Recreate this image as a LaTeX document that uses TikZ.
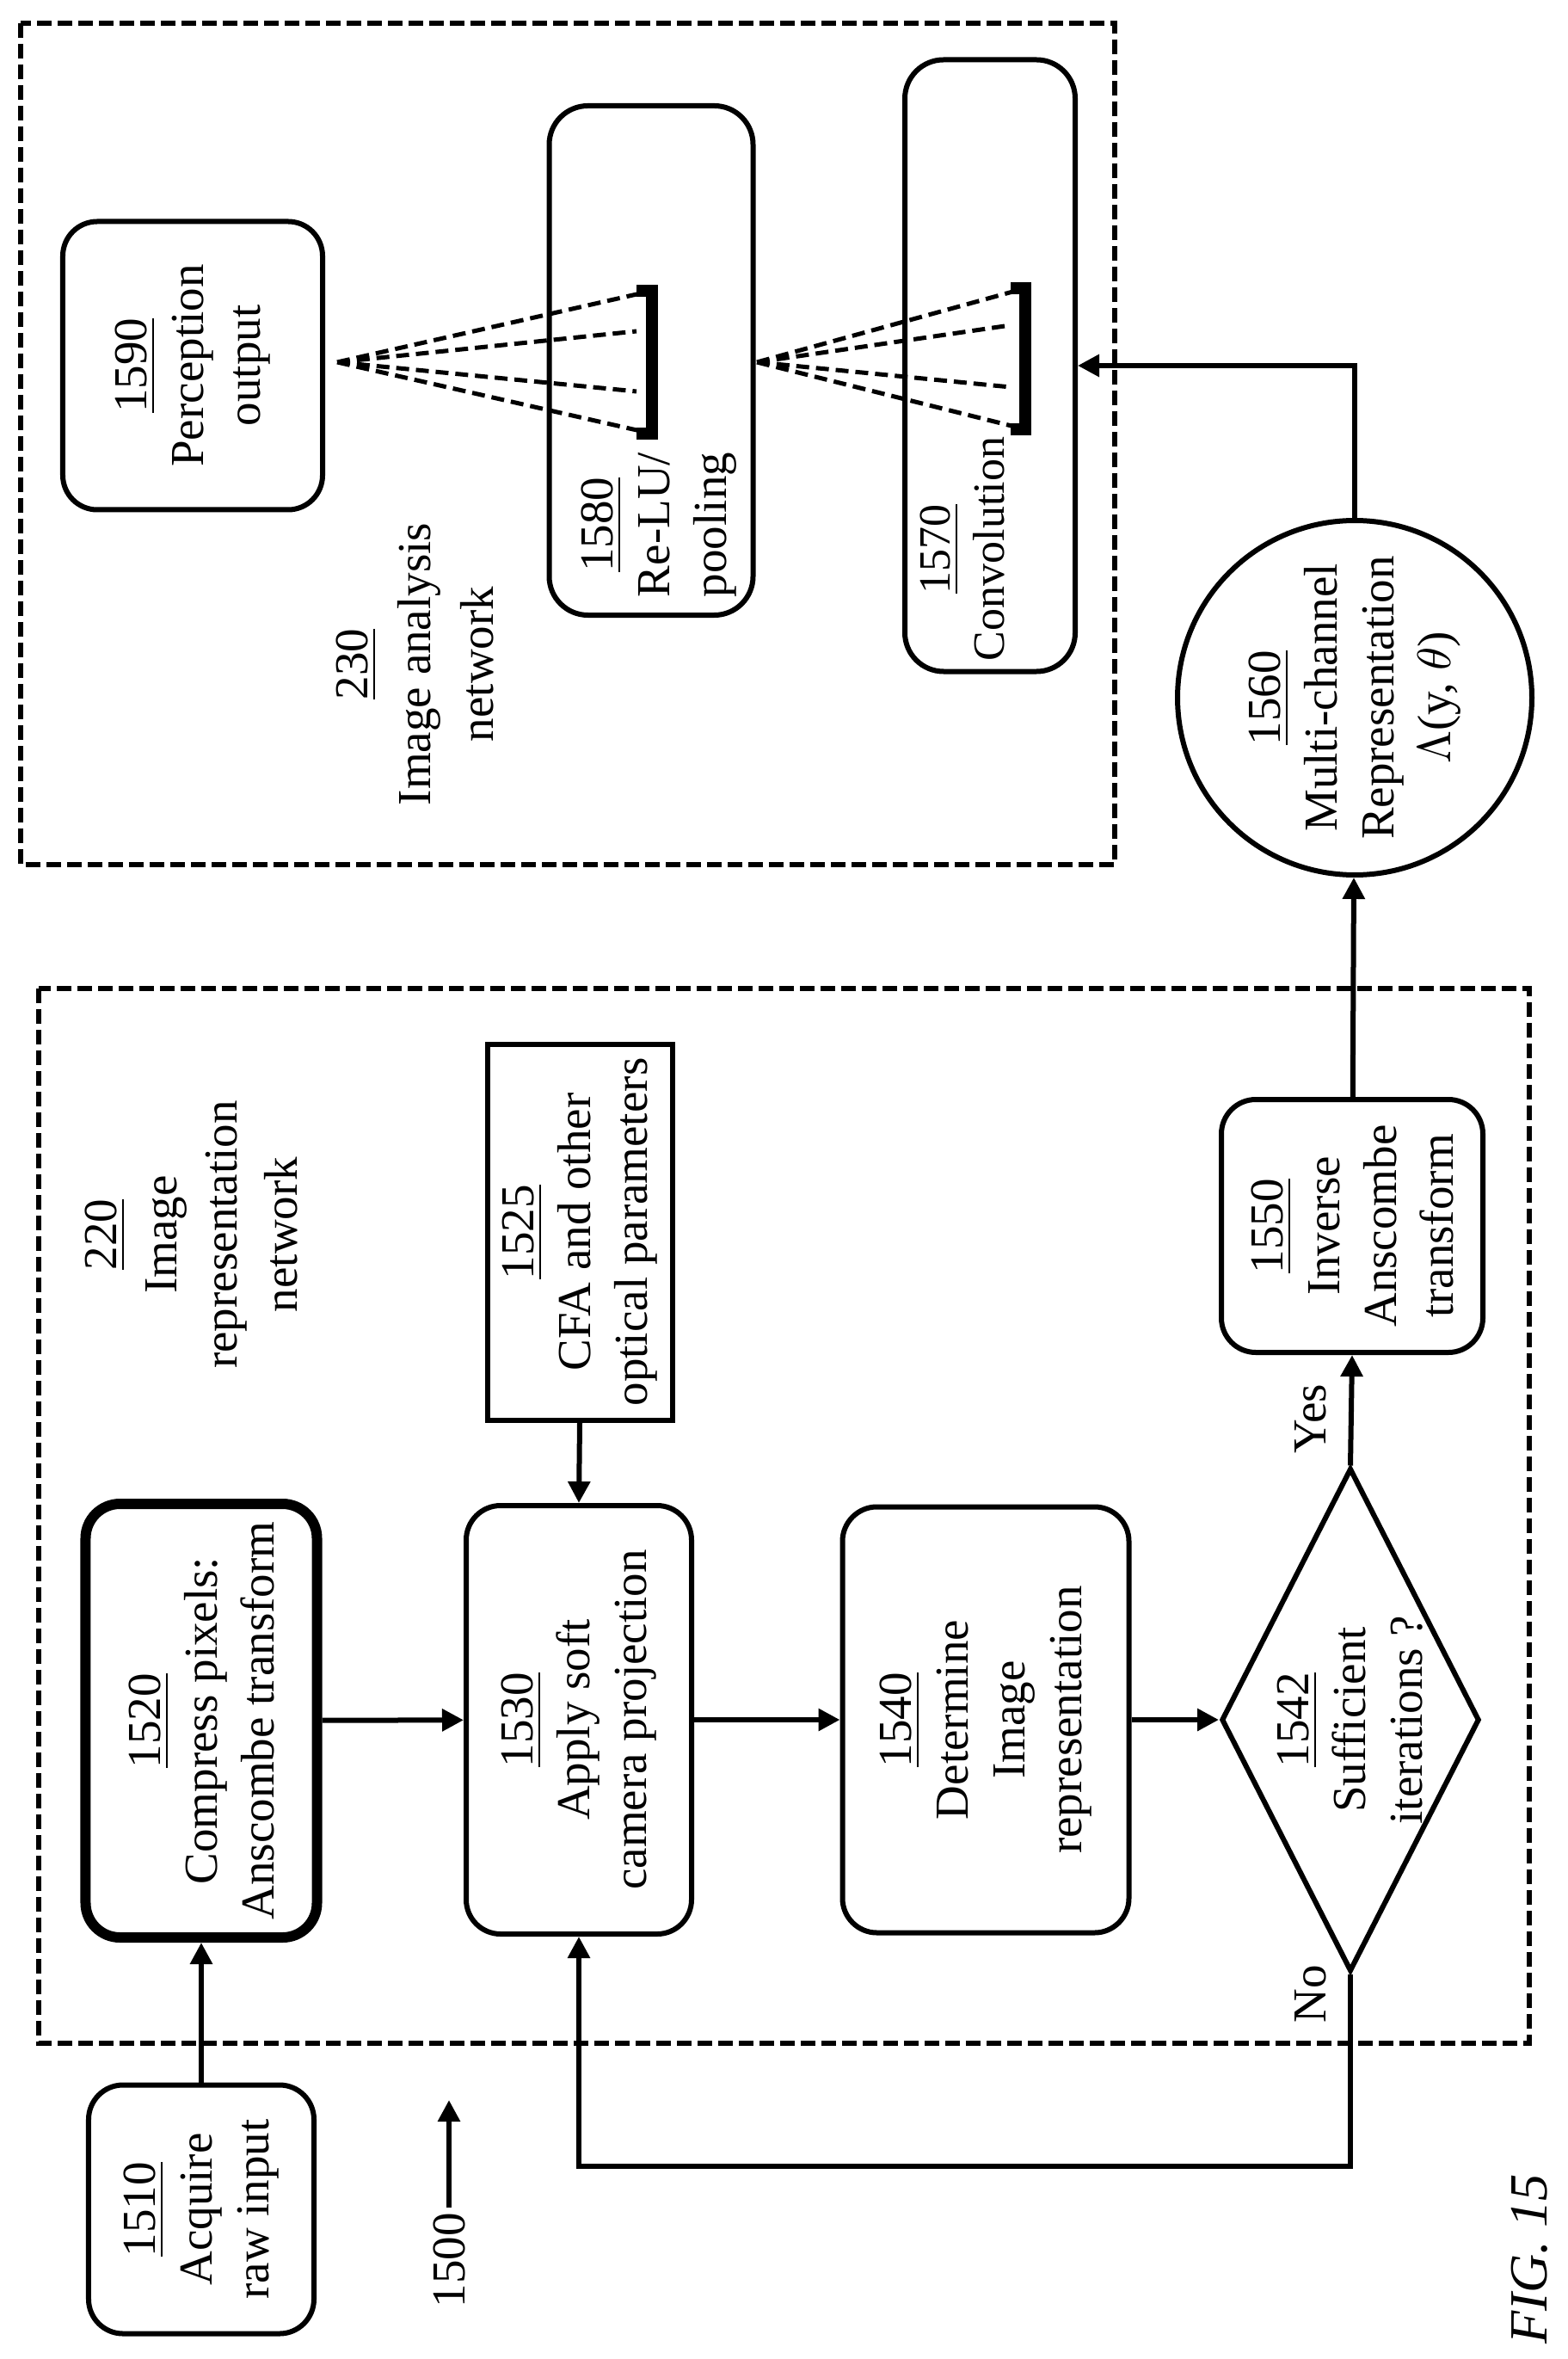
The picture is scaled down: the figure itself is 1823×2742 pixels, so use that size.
\documentclass[tikz,border=0pt]{standalone}
\usepackage{fontspec}
\setmainfont{Liberation Serif}
\usepackage{tikz}
\usetikzlibrary{arrows.meta,shapes.geometric,positioning,calc}

\begin{document}
\begin{tikzpicture}[x=0.2pt, y=-0.2pt,
    txt/.style = {align=center, inner sep=1pt, rotate=90, font=\fontsize{11}{13.2}\selectfont},
    stage/.style = {txt, draw=black, line width=1.2pt, rounded corners=8pt},
    stagethick/.style = {stage, line width=2.4pt},
    param/.style = {txt, draw=black, line width=1.2pt},
    decision/.style = {txt, diamond, draw=black, line width=1.2pt, inner sep=0pt},
    rep/.style = {txt, circle, draw=black, line width=1.2pt, inner sep=0pt},
    frame/.style = {line width=1.2pt, dash pattern=on 3.4pt off 1.4pt},
    cone/.style = {line width=1pt, dash pattern=on 3pt off 1.6pt},
    flow/.style = {line width=1.2pt, -{Triangle[length=5pt,width=5pt]}}]
  \useasboundingbox (0,0) rectangle (1823,2742);

  % frames
  \draw[frame] (24,27) rectangle (1296,1005);
  \draw[frame] (45,1149) rectangle (1778,2375);
  \node[txt, font=\fontsize{11}{14.6}\selectfont] (net230) at (482,772) {\underline{230}\\Image analysis\\network};
  \node[txt, font=\fontsize{11}{14}\selectfont] (net220) at (222,1435) {\underline{220}\\Image\\representation\\network};

  % image analysis network
  \node[stage, minimum width=67pt, minimum height=60.4pt] (n1590) at (224,425) {\underline{1590}\\Perception\\output};
  \node[stage, rounded corners=9pt, minimum width=118.4pt, minimum height=47.4pt] (n1580) at (757,419) {};
  \node[txt] (t1580) at (766,610) {\underline{1580}\\Re-LU/\\pooling};
  \node[stage, rounded corners=9pt, minimum width=142.2pt, minimum height=39.6pt] (n1570) at (1151,425) {};
  \node[txt, font=\fontsize{10.4}{12.6}\selectfont] (t1570) at (1119,638) {\underline{1570}\\Convolution};

  \coordinate (apexa) at (392,421);
  \coordinate (apexb) at (880,421);
  \draw[cone] (apexa) -- (758,338) (apexa) -- (740,385) (apexa) -- (740,455) (apexa) -- (758,504);
  \draw[cone] (apexb) -- (1192,335) (apexb) -- (1175,378) (apexb) -- (1175,450) (apexb) -- (1192,499);
  \draw[line width=2.8pt] (740,338) -- (758,338) -- (758,504) -- (740,504);
  \draw[line width=2.8pt] (1175,335) -- (1192,335) -- (1192,499) -- (1175,499);

  % image representation network
  \node[stage, minimum width=57.8pt, minimum height=52.4pt] (n1510) at (234,2568) {\underline{1510}\\Acquire\\raw input};
  \node[stagethick, minimum width=100.8pt, minimum height=53.8pt] (n1520) at (234,2000) {\underline{1520}\\Compress pixels:\\Anscombe transform};
  \node[param, minimum width=87.4pt, minimum height=43pt] (n1525) at (674,1432) {\underline{1525}\\CFA and other\\optical parameters};
  \node[stage, minimum width=99.6pt, minimum height=52.4pt] (n1530) at (673,1999) {\underline{1530}\\Apply soft\\camera projection};
  \node[stage, minimum width=99pt, minimum height=66.6pt] (n1540) at (1146,1999) {\underline{1540}\\Determine\\Image\\representation};
  \node[decision, minimum width=117pt, minimum height=60pt] (n1542) at (1570,1999) {};
  \node[txt] (t1542) at (1570,1999) {\underline{1542}\\Sufficient\\iterations ?};
  \node[stage, minimum width=58.8pt, minimum height=60.8pt] (n1550) at (1572,1425) {\underline{1550}\\Inverse\\Anscombe\\transform};
  \node[rep, minimum size=82pt] (n1560) at (1575,811) {\underline{1560}\\Multi-channel\\Representation\\$\Lambda$(y, $\theta$)};

  \node[txt] (yes) at (1524,1649) {Yes};
  \node[txt] (no) at (1524,2318) {No};
  \node[txt] (ref1500) at (522,2627) {1500};
  \coordinate (ref1500tip) at (522,2441);
  \node[txt, font=\fontsize{12.5}{14}\selectfont\itshape] (fig) at (1778,2626) {FIG. 15};

  % connectors
  \draw[flow] (n1510.east) -- (n1520.west);
  \draw[flow] (n1520) -- (n1530);
  \draw[flow] (n1525.west) -- (n1530.east);
  \draw[flow] (n1530) -- (n1540);
  \draw[flow] (n1540) -- (n1542);
  \draw[flow] (n1542.east) -- (n1550.west);
  \draw[flow] (n1550) -- (n1560);
  \draw[flow] (n1560.east) |- (n1570.south);
  \coordinate (back) at (0,2518);
  \draw[flow] (n1542.west) -- (n1542.west |- back) -| (n1530.west);
  \draw[line width=1.2pt, -{Triangle[length=5pt,width=5pt]}] (ref1500.east) -- (ref1500tip);
\end{tikzpicture}
\end{document}
